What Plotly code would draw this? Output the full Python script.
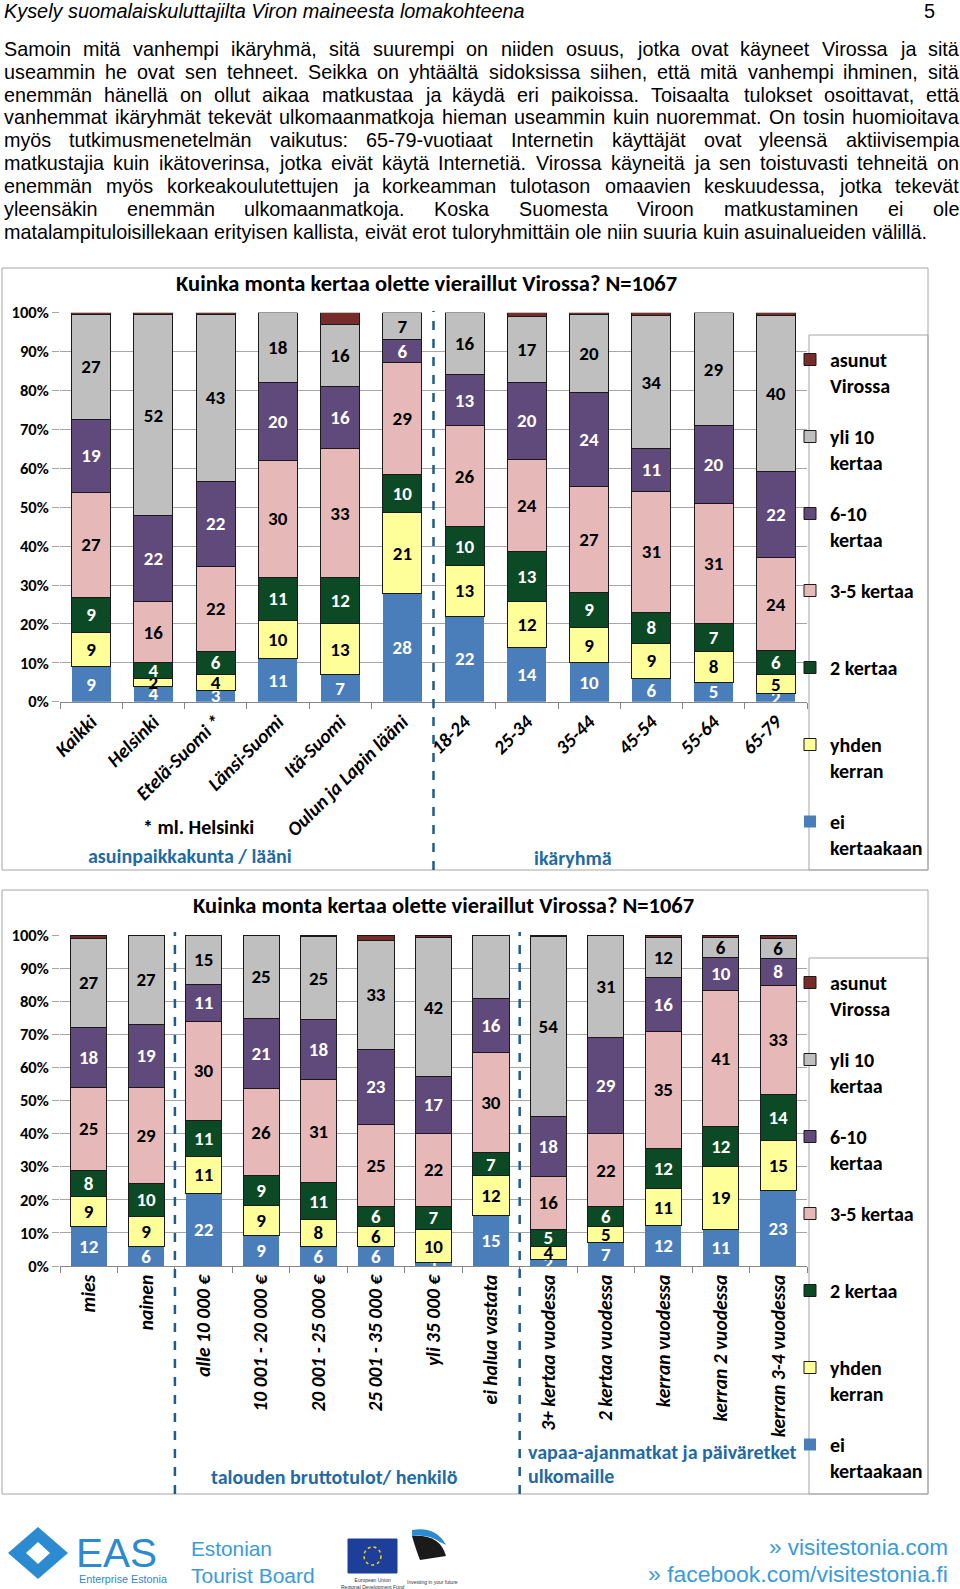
import plotly.graph_objects as go

# ---------------- DATA ----------------
top_categories = ["Kaikki", "Helsinki", "Etelä-Suomi *", "Länsi-Suomi", "Itä-Suomi",
                  "Oulun ja Lapin lääni", "18-24", "25-34", "35-44", "45-54", "55-64", "65-79"]
top_ei = [9, 4, 3, 11, 7, 28, 22, 14, 10, 6, 5, 2]
top_yhden = [9, 2, 4, 10, 13, 21, 13, 12, 9, 9, 8, 5]
top_2k = [9, 4, 6, 11, 12, 10, 10, 13, 9, 8, 7, 6]
top_35 = [27, 16, 22, 30, 33, 29, 26, 24, 27, 31, 31, 24]
top_610 = [19, 22, 22, 20, 16, 6, 13, 20, 24, 11, 20, 22]
top_yli10 = [27, 52, 43, 18, 16, 7, 16, 17, 20, 34, 29, 40]
top_asunut = [0.5, 0.5, 0.5, 0, 3, 0, 0, 1, 0.5, 0.8, 0, 0.6]

bot_categories = ["mies", "nainen", "alle 10 000 €", "10 001 - 20 000 €", "20 001 - 25 000 €",
                  "25 001 - 35 000 €", "yli 35 000 €", "ei halua vastata", "3+ kertaa vuodessa",
                  "2 kertaa vuodessa", "kerran vuodessa", "kerran 2 vuodessa", "kerran 3-4 vuodessa"]
bot_ei = [12, 6, 22, 9, 6, 6, 1, 15, 2, 7, 12, 11, 23]
bot_yhden = [9, 9, 11, 9, 8, 6, 10, 12, 4, 5, 11, 19, 15]
bot_2k = [8, 10, 11, 9, 11, 6, 7, 7, 5, 6, 12, 12, 14]
bot_35 = [25, 29, 30, 26, 31, 25, 22, 30, 16, 22, 35, 41, 33]
bot_610 = [18, 19, 11, 21, 18, 23, 17, 16, 18, 29, 16, 10, 8]
bot_yli10 = [27, 27, 15, 25, 25, 33, 42, 19, 54, 31, 12, 6, 6]
bot_asunut = [1, 0, 0, 0, 0.5, 1.7, 0.7, 0, 0.5, 0, 0.7, 0.7, 1.2]

series_names = ["ei<br>kertaakaan", "yhden<br>kerran", "2 kertaa<br> ", "3-5 kertaa<br> ",
                "6-10<br>kertaa", "yli 10<br>kertaa", "asunut<br>Virossa"]
series_colors = ["#4A7EBB", "#FFFF99", "#0B4A24", "#E6B9B8", "#5F4A7B", "#BFBFBF", "#772C2A"]
series_textcolors = ["white", "black", "white", "black", "white", "black", "white"]
series_labelled = [True, True, True, True, True, True, False]
top_values = [top_ei, top_yhden, top_2k, top_35, top_610, top_yli10, top_asunut]
bot_values = [bot_ei, bot_yhden, bot_2k, bot_35, bot_610, bot_yli10, bot_asunut]

header_title = "Kysely suomalaiskuluttajilta Viron maineesta lomakohteena"
page_number = "5"
paragraph_lines = [
    "Samoin mitä vanhempi ikäryhmä, sitä suurempi on niiden osuus, jotka ovat käyneet Virossa ja sitä",
    "useammin he ovat sen tehneet. Seikka on yhtäältä sidoksissa siihen, että mitä vanhempi ihminen, sitä",
    "enemmän hänellä on ollut aikaa matkustaa ja käydä eri paikoissa. Toisaalta tulokset osoittavat, että",
    "vanhemmat ikäryhmät tekevät ulkomaanmatkoja hieman useammin kuin nuoremmat. On tosin huomioitava",
    "myös tutkimusmenetelmän vaikutus: 65-79-vuotiaat Internetin käyttäjät ovat yleensä aktiivisempia",
    "matkustajia kuin ikätoverinsa, jotka eivät käytä Internetiä. Virossa käyneitä ja sen toistuvasti tehneitä on",
    "enemmän myös korkeakoulutettujen ja korkeamman tulotason omaavien keskuudessa, jotka tekevät",
    "yleensäkin enemmän ulkomaanmatkoja. Koska Suomesta Viroon matkustaminen ei ole",
    "matalampituloisillekaan erityisen kallista, eivät erot tuloryhmittäin ole niin suuria kuin asuinalueiden välillä.",
]
chart_title = "Kuinka monta kertaa olette vieraillut Virossa? N=1067"

# ---------------- HELPERS ----------------
W, H = 960, 1589
def px(p):
    return p / W
def py(p):
    return 1 - p / H

ARIAL = "Liberation Sans, Arial, sans-serif"
CAL = "Carlito, Calibri, Lato, sans-serif"

# Arial metrics (per 1000 em) used to size / justify the body text
AW = {' ': 278, ',': 278, '.': 278, ':': 278, '-': 333, '?': 556, '»': 556, '/': 278,
      'a': 556, 'b': 556, 'c': 500, 'd': 556, 'e': 556, 'f': 278, 'g': 556, 'h': 556, 'i': 222,
      'j': 222, 'k': 500, 'l': 222, 'm': 833, 'n': 556, 'o': 556, 'p': 556, 'q': 556, 'r': 333,
      's': 500, 't': 278, 'u': 556, 'v': 500, 'w': 722, 'x': 500, 'y': 500, 'z': 500,
      'ä': 556, 'ö': 556, 'å': 556,
      'A': 667, 'B': 667, 'C': 722, 'D': 722, 'E': 667, 'F': 611, 'G': 778, 'H': 722, 'I': 278,
      'J': 500, 'K': 667, 'L': 556, 'M': 833, 'N': 722, 'O': 778, 'P': 667, 'R': 722, 'S': 667,
      'T': 611, 'U': 722, 'V': 667, 'W': 944, 'Y': 667}
def em(s):
    return sum(AW.get(c, 556) for c in s) / 1000

fig = go.Figure()

for i in range(7):
    for vals, cats, xa, ya, lg, grp in [
        (top_values[i], top_categories, "x", "y", "legend", "t"),
        (bot_values[i], bot_categories, "x2", "y2", "legend2", "b"),
    ]:
        txt = [(str(v) if (series_labelled[i] and v > 0) else "") for v in vals]
        fig.add_trace(go.Bar(
            x=cats, y=vals, name=series_names[i],
            marker=dict(color=series_colors[i],
                        line=dict(color="#1a1a1a" if i != 0 else series_colors[i], width=1 if i != 0 else 0)),
            text=txt, textposition="inside", insidetextanchor="middle", textangle=0,
            textfont=dict(color=series_textcolors[i], family=CAL, size=19, weight="bold"),
            xaxis=xa, yaxis=ya, legend=lg, legendgroup=grp + str(i), legendrank=10 * (7 - i),
            hoverinfo="skip", cliponaxis=False,
        ))

# ---------------- ANNOTATIONS ----------------
ann = []
HSIZE = 521 / em(header_title)
ann.append(dict(text=header_title, x=px(2), y=py(11), xanchor="left", yanchor="middle",
                font=dict(family=ARIAL, size=HSIZE, style="italic", color="black")))
ann.append(dict(text=page_number, x=px(937), y=py(11), xanchor="right", yanchor="middle",
                font=dict(family=ARIAL, size=HSIZE, color="black")))

# justified paragraph
PSIZE = 923 / em(paragraph_lines[-1])
left, right = 2, 957
for li, line in enumerate(paragraph_lines):
    yy = 48.7 + li * 22.9
    words = line.split(" ")
    widths = [em(w) * PSIZE for w in words]
    if li < len(paragraph_lines) - 1:
        gap = (right - left - sum(widths)) / (len(words) - 1)
    else:
        gap = em(" ") * PSIZE
    xx = left
    for w, wd in zip(words, widths):
        ann.append(dict(text=w, x=px(xx), y=py(yy), xanchor="left", yanchor="middle",
                        font=dict(family=ARIAL, size=PSIZE, color="black")))
        xx += wd + gap

# chart titles
ann.append(dict(text=chart_title, x=px(426), y=py(283), xanchor="center", yanchor="middle",
                font=dict(family=CAL, size=22.5, weight="bold", color="black")))
ann.append(dict(text=chart_title, x=px(443), y=py(905), xanchor="center", yanchor="middle",
                font=dict(family=CAL, size=22.5, weight="bold", color="black")))

BLUE = "#1F6AA5"
SUB = 20
ann.append(dict(text="* ml. Helsinki", x=px(198), y=py(827), xanchor="center", yanchor="middle",
                font=dict(family=CAL, size=SUB, weight="bold", color="black")))
ann.append(dict(text="asuinpaikkakunta / lääni", x=px(190), y=py(856), xanchor="center", yanchor="middle",
                font=dict(family=CAL, size=SUB, weight="bold", color=BLUE)))
ann.append(dict(text="ikäryhmä", x=px(573), y=py(858), xanchor="center", yanchor="middle",
                font=dict(family=CAL, size=SUB, weight="bold", color=BLUE)))
ann.append(dict(text="talouden bruttotulot/ henkilö", x=px(334), y=py(1477), xanchor="center", yanchor="middle",
                font=dict(family=CAL, size=SUB, weight="bold", color=BLUE)))
ann.append(dict(text="vapaa-ajanmatkat ja päiväretket", x=px(526), y=py(1452), xanchor="left", yanchor="middle",
                font=dict(family=CAL, size=SUB, weight="bold", color=BLUE)))
ann.append(dict(text="ulkomaille", x=px(526), y=py(1476), xanchor="left", yanchor="middle",
                font=dict(family=CAL, size=SUB, weight="bold", color=BLUE)))

# footer
FB = "#3A9BD9"
def fsize(t, width):
    return width / em(t)
ann.append(dict(text="EAS", x=px(74), y=py(1553), xanchor="left", yanchor="middle",
                font=dict(family=ARIAL, size=fsize("EAS", 81), color="#2B8AD0")))
ann.append(dict(text="Enterprise Estonia", x=px(77), y=py(1579), xanchor="left", yanchor="middle",
                font=dict(family=ARIAL, size=fsize("Enterprise Estonia", 88), color="#2B8AD0")))
ann.append(dict(text="Estonian", x=px(189), y=py(1548), xanchor="left", yanchor="middle",
                font=dict(family=ARIAL, size=fsize("Estonian", 81), color=FB)))
ann.append(dict(text="Tourist Board", x=px(189), y=py(1575), xanchor="left", yanchor="middle",
                font=dict(family=ARIAL, size=fsize("Tourist Board", 126), color=FB)))
ann.append(dict(text="European Union<br>Regional Development Fund", x=px(373), y=py(1583), xanchor="center",
                yanchor="middle", font=dict(family=ARIAL, size=5, color="#333")))
ann.append(dict(text="Investing in your future", x=px(432), y=py(1582), xanchor="center",
                yanchor="middle", font=dict(family=ARIAL, size=5, color="#333")))
ann.append(dict(text="» visitestonia.com", x=px(950), y=py(1547), xanchor="right", yanchor="middle",
                font=dict(family=ARIAL, size=fsize("» visitestonia.com", 179), color=FB)))
ann.append(dict(text="» facebook.com/visitestonia.fi", x=px(950), y=py(1574), xanchor="right", yanchor="middle",
                font=dict(family=ARIAL, size=fsize("» facebook.com/visitestonia.fi", 300), color=FB)))
for a in ann:
    a.update(xref="paper", yref="paper", showarrow=False)

# ---------------- SHAPES ----------------
shapes = []
BOX = "#A6A6A6"
def rect(x0, y0, x1, y1, line=BOX, fill=None, w=1):
    d = dict(type="rect", xref="paper", yref="paper", x0=px(x0), x1=px(x1), y0=py(y0), y1=py(y1),
             line=dict(color=line, width=w), layer="below")
    if fill:
        d["fillcolor"] = fill
    return d
shapes.append(rect(2, 268, 928, 870))
shapes.append(rect(809, 335, 928, 870))
shapes.append(rect(2, 890, 928, 1494))
shapes.append(rect(809, 958, 928, 1494))
SEP = "#1F5C8B"
shapes.append(dict(type="line", xref="x", yref="paper", x0=5.5, x1=5.5, y0=py(870), y1=py(311),
                   line=dict(color=SEP, width=2.5, dash="dash")))
for xs in [1.5, 7.5]:
    shapes.append(dict(type="line", xref="x2", yref="paper", x0=xs, x1=xs, y0=py(1494), y1=py(932),
                       line=dict(color=SEP, width=2.5, dash="dash")))
# footer logo approximations
shapes.append(dict(type="path", xref="paper", yref="paper",
                   path="M %f %f L %f %f L %f %f L %f %f Z" % (px(8), py(1553), px(38), py(1527), px(68), py(1553), px(38), py(1579)),
                   fillcolor="#2B8AD0", line=dict(width=0)))
shapes.append(dict(type="path", xref="paper", yref="paper",
                   path="M %f %f L %f %f L %f %f L %f %f Z" % (px(26), py(1553), px(38), py(1542), px(50), py(1553), px(38), py(1564)),
                   fillcolor="white", line=dict(width=0)))
shapes.append(rect(348, 1539, 397, 1573, line="#1d3f9a", fill="#1d3f9a"))
shapes.append(dict(type="circle", xref="paper", yref="paper", x0=px(364), x1=px(381), y0=py(1565), y1=py(1547),
                   line=dict(color="#FFD700", width=1.5, dash="dot")))
shapes.append(dict(type="path", xref="paper", yref="paper",
                   path="M %f %f Q %f %f %f %f L %f %f Q %f %f %f %f Z" % (
                       px(412), py(1536), px(440), py(1534), px(446), py(1556),
                       px(420), py(1560), px(416), py(1550), px(412), py(1536)),
                   fillcolor="#1a1a1a", line=dict(width=0)))
shapes.append(dict(type="path", xref="paper", yref="paper",
                   path="M %f %f Q %f %f %f %f L %f %f Q %f %f %f %f Z" % (
                       px(412), py(1530), px(436), py(1526), px(446), py(1545),
                       px(440), py(1542), px(428), py(1534), px(412), py(1536)),
                   fillcolor="#2B8AD0", line=dict(width=0)))

# ---------------- LAYOUT ----------------
axis_common = dict(showgrid=False, showline=True, linecolor="#868686", linewidth=1,
                   ticks="outside", tickson="boundaries", ticklen=6, tickcolor="#868686",
                   type="category", fixedrange=True, automargin=False)
yaxis_common = dict(range=[0, 100], dtick=10, ticksuffix="%", showgrid=True, gridcolor="#A6A6A6",
                    gridwidth=1, ticks="outside", ticklen=7, tickcolor="#A6A6A6", zeroline=False,
                    showline=False, automargin=False,
                    tickfont=dict(family=CAL, size=16.5, weight="bold", color="black"))

legend_common = dict(xanchor="left", yanchor="top", bgcolor="rgba(0,0,0,0)",
                     font=dict(family=CAL, size=20, weight="bold", color="black"),
                     traceorder="grouped", tracegroupgap=22, valign="top", itemwidth=30)

fig.update_layout(
    width=W, height=H, margin=dict(l=0, r=0, t=0, b=0, autoexpand=False),
    paper_bgcolor="white", plot_bgcolor="white",
    barmode="stack", barnorm="percent", bargap=0.37,
    uniformtext=dict(mode="show", minsize=19),
    xaxis=dict(domain=[px(60), px(807)], anchor="y", range=[-0.5, 11.5], tickangle=-45,
               tickfont=dict(family=CAL, size=19.5, weight="bold", style="italic", color="black"), **axis_common),
    yaxis=dict(domain=[py(701.7), py(312.7)], anchor="x", **yaxis_common),
    xaxis2=dict(domain=[px(60), px(807)], anchor="y2", range=[-0.5, 12.5], tickangle=-90,
                tickfont=dict(family=CAL, size=19.5, weight="bold", style="italic", color="black"), **axis_common),
    yaxis2=dict(domain=[py(1266), py(935)], anchor="x2", **yaxis_common),
    legend=dict(x=px(790), y=py(340), **legend_common),
    legend2=dict(x=px(790), y=py(963), **legend_common),
    annotations=ann, shapes=shapes, showlegend=True,
)

fig.write_html("out.html", config={"displayModeBar": False},
               post_script="document.body.style.margin='0';document.body.style.overflow='hidden';")
